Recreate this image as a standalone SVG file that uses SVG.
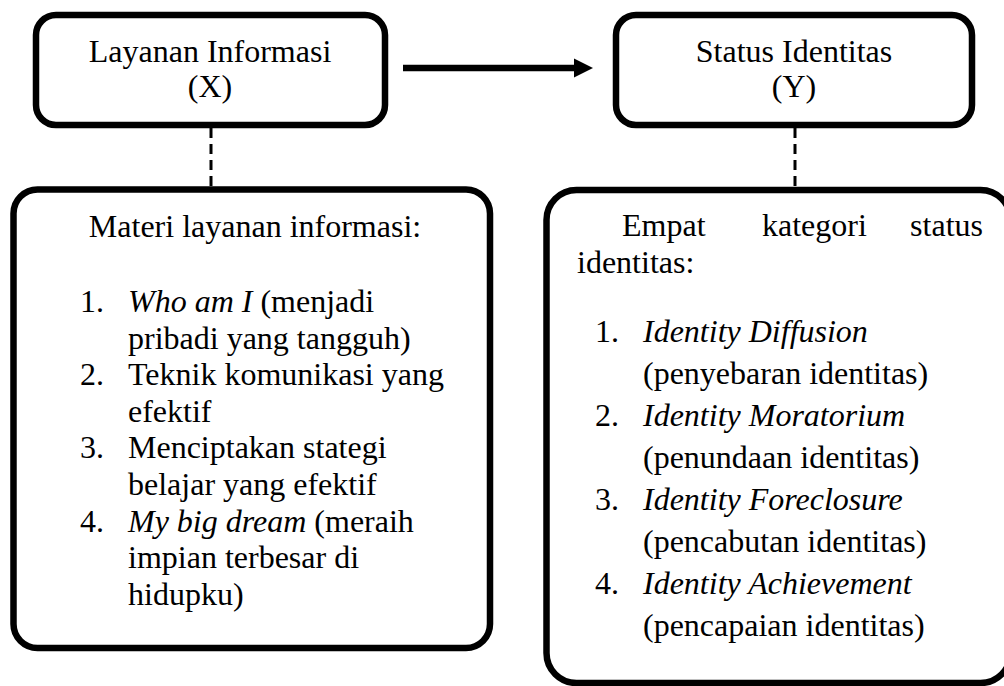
<svg xmlns="http://www.w3.org/2000/svg" width="1004" height="686" viewBox="0 0 1004 686">
  <style>
    .box { fill: #ffffff; stroke: #000000; stroke-width: 6.5; }
    .txt { font-family: "Liberation Serif", "Times New Roman", serif; font-size: 32px; fill: #000000; }
    .mid { text-anchor: middle; }
    .it { font-style: italic; }
    .dash { stroke: #000000; stroke-width: 3; stroke-dasharray: 10 6; fill: none; }
    .flow { stroke: #000000; stroke-width: 6.5; fill: none; }
  </style>
  <defs>
    <marker id="head" markerUnits="userSpaceOnUse" markerWidth="20" markerHeight="20" refX="0" refY="10" orient="auto">
      <polygon points="0,0.5 19,10 0,19.5" fill="#000000"/>
    </marker>
  </defs>

  <rect width="1004" height="686" fill="#ffffff"/>

  <!-- connectors -->
  <g id="connectors">
    <line class="flow" x1="403" y1="68" x2="574" y2="68" marker-end="url(#head)"/>
    <line class="dash" x1="211" y1="128" x2="211" y2="187"/>
    <line class="dash" x1="795" y1="128" x2="795" y2="187"/>
  </g>

  <!-- variable X -->
  <g id="node-x">
    <rect class="box" x="36" y="15" width="349" height="110" rx="20" ry="20"/>
    <text class="txt mid" x="210" y="62">Layanan Informasi</text>
    <text class="txt mid" x="210" y="97">(X)</text>
  </g>

  <!-- variable Y -->
  <g id="node-y">
    <rect class="box" x="616" y="15" width="356" height="110" rx="20" ry="20"/>
    <text class="txt mid" x="794" y="62">Status Identitas</text>
    <text class="txt mid" x="794" y="97">(Y)</text>
  </g>

  <!-- service material list -->
  <g id="node-materi">
    <rect class="box" x="13.5" y="189.5" width="476.5" height="458.5" rx="24" ry="24"/>
    <text class="txt mid" x="255" y="237">Materi layanan informasi:</text>
    <text class="txt" x="80" y="312">1.</text>
    <text class="txt" x="128" y="312"><tspan class="it">Who am I</tspan> (menjadi</text>
    <text class="txt" x="128" y="348.6">pribadi yang tangguh)</text>
    <text class="txt" x="80" y="385.2">2.</text>
    <text class="txt" x="128" y="385.2">Teknik komunikasi yang</text>
    <text class="txt" x="128" y="421.8">efektif</text>
    <text class="txt" x="80" y="458.4">3.</text>
    <text class="txt" x="128" y="458.4">Menciptakan stategi</text>
    <text class="txt" x="128" y="495">belajar yang efektif</text>
    <text class="txt" x="80" y="531.6">4.</text>
    <text class="txt" x="128" y="531.6"><tspan class="it">My big dream</tspan> (meraih</text>
    <text class="txt" x="128" y="568.2">impian terbesar di</text>
    <text class="txt" x="128" y="604.8">hidupku)</text>
  </g>

  <!-- identity status categories -->
  <g id="node-kategori">
    <rect class="box" x="546.5" y="190" width="464" height="493" rx="30" ry="30"/>
    <text class="txt" x="622" y="236">Empat</text>
    <text class="txt" x="762" y="236">kategori</text>
    <text class="txt" x="983" y="236" text-anchor="end">status</text>
    <text class="txt" x="577" y="273">identitas:</text>
    <text class="txt" x="595" y="342">1.</text>
    <text class="txt it" x="643" y="342">Identity Diffusion</text>
    <text class="txt" x="643" y="384">(penyebaran identitas)</text>
    <text class="txt" x="595" y="426">2.</text>
    <text class="txt it" x="643" y="426">Identity Moratorium</text>
    <text class="txt" x="643" y="468">(penundaan identitas)</text>
    <text class="txt" x="595" y="510">3.</text>
    <text class="txt it" x="643" y="510">Identity Foreclosure</text>
    <text class="txt" x="643" y="552">(pencabutan identitas)</text>
    <text class="txt" x="595" y="594">4.</text>
    <text class="txt it" x="643" y="594">Identity Achievement</text>
    <text class="txt" x="643" y="636">(pencapaian identitas)</text>
  </g>
</svg>
